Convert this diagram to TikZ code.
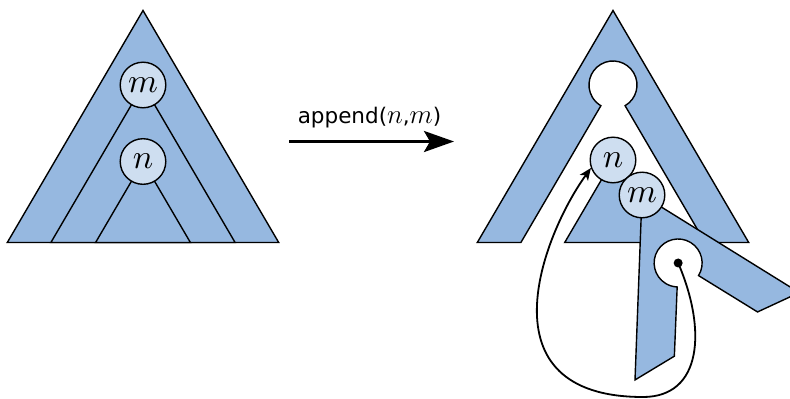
\documentclass[tikz,border=0pt]{standalone}
\usepackage{fontspec}
\setsansfont{DejaVu Sans}
\usetikzlibrary{arrows.meta}
\definecolor{treefill}{RGB}{150,184,224}
\definecolor{nodefill}{RGB}{206,222,240}
% math letters enlarged by a given factor
\newcommand{\bigmath}[2]{\scalebox{#1}{$#2$}}
\tikzset{
  tree/.style={fill=treefill, draw=black, line width=1.4pt, line join=miter},
  keynode/.style={circle, draw=black, fill=nodefill, line width=1.4pt,
    minimum size=45.6pt, inner sep=0pt},
  ptr/.style={circle, fill=black, minimum size=9pt, inner sep=0pt},
  ptrline/.style={line width=1.8pt, -{Stealth[length=12pt,width=10pt,inset=3pt]}},
  opline/.style={line width=3pt, -{Stealth[length=30pt,width=21pt,inset=6pt]}},
  oplabel/.style={font=\fontsize{21.5}{24}\selectfont\sffamily},
}
\begin{document}
\begin{tikzpicture}[x=1pt,y=1pt]
\useasboundingbox (0,0) rectangle (790,-399);
\clip (0,0) rectangle (790,-399);

% ---- tree before the operation ----
\draw[tree] (7.3,-242.5) -- (143,-10.5) -- (278.7,-242.5) -- cycle;
\draw[tree] (50.9,-242.5) -- (143,-85) -- (235.1,-242.5) -- cycle;
\draw[tree] (95.6,-242.5) -- (143,-161.5) -- (190.4,-242.5) -- cycle;
\node[keynode] (m0) at (143,-85) {\bigmath{3.4}{m}};
\node[keynode] (n0) at (143,-161.5) {\bigmath{3.4}{n}};

% ---- operation arrow ----
\coordinate (a0) at (289,-141.5);
\coordinate (a1) at (454,-141.5);
\draw[opline] (a0) -- (a1);
\node[oplabel] (lbl) at (369.5,-117.5) {append(\bigmath{1.3}{n},\bigmath{1.3}{m})};

% ---- tree after the operation ----
% outer tree with the subtree of m cut out
\draw[tree] (477.3,-242.5) -- (613,-10.5) -- (748.7,-242.5) -- (705.1,-242.5)
  -- (625.1,-105.7) arc[start angle=-59.7, end angle=239.7, radius=24]
  -- (520.9,-242.5) -- cycle;
% subtree of n
\draw[tree] (564.7,-242.5) -- (613,-160) -- (661.3,-242.5) -- cycle;
\node[keynode] (n) at (613,-160) {\bigmath{3.4}{n}};
% subtree of m, turned, with the place of n left empty
\begin{scope}[shift={(642,-195)}, rotate=28]
  \draw[tree] (-93,-160) -- (0,0) -- (93,-160) -- (47.1,-157.5)
    -- (12.1,-97.7) arc[start angle=-59.7, end angle=239.7, radius=24]
    -- (-47.1,-157.5) -- cycle;
  \node[ptr] (p) at (0,-77) {};
\end{scope}
\node[keynode] (m) at (642,-195) {\bigmath{3.4}{m}};

% pointer from the empty place to n
\draw[ptrline] (p.center) .. controls (707,-330) and (702,-397) .. (643,-397)
  .. controls (480,-397) and (542,-236) .. (n.200);
\end{tikzpicture}
\end{document}
